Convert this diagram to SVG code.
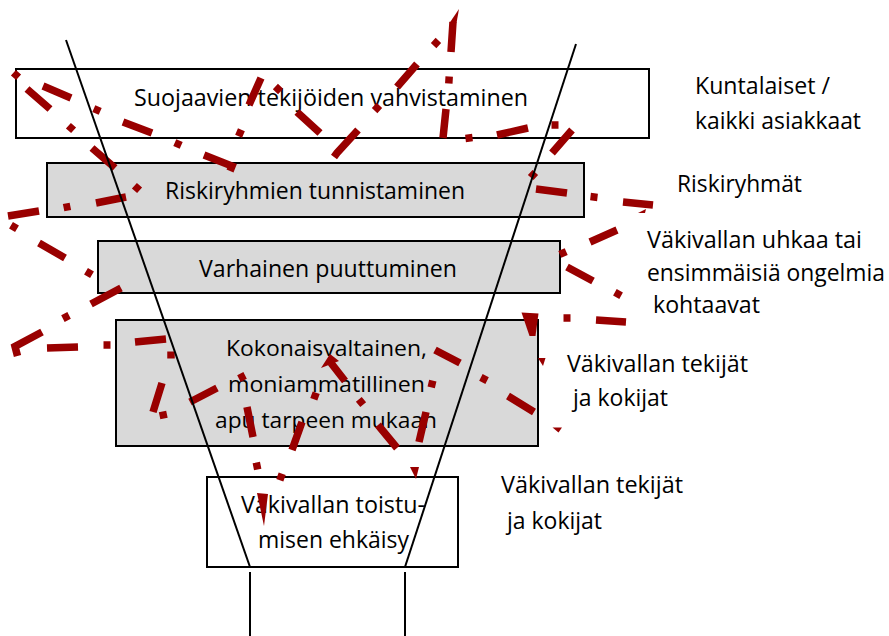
<svg xmlns="http://www.w3.org/2000/svg" width="889" height="636" viewBox="0 0 889 636">
<style>
  .box{stroke:#000;stroke-width:2}
  .w{fill:#fff}
  .g{fill:#d9d9d9}
  text{font-family:"Open Sans","Liberation Sans",sans-serif;font-size:23px;fill:#000}
  .sm{font-size:21px}
  .fl{stroke:#000;stroke-width:2;fill:none}
  .r{stroke:#990000;stroke-width:7.5;fill:none;stroke-linecap:butt;stroke-linejoin:miter}
  .rh{fill:#990000;stroke:none}
</style>
<rect width="889" height="636" fill="#fff"/>

<g id="node-suojaavien">
  <rect class="box w" x="16" y="69" width="633" height="69"/>
  <text x="134" y="106" textLength="394" lengthAdjust="spacingAndGlyphs">Suojaavien tekijöiden vahvistaminen</text>
</g>
<g id="node-riskiryhmien">
  <rect class="box g" x="47" y="163" width="537" height="54"/>
  <text x="165" y="199" textLength="300" lengthAdjust="spacingAndGlyphs">Riskiryhmien tunnistaminen</text>
</g>
<g id="node-varhainen">
  <rect class="box g" x="98" y="241" width="462" height="52"/>
  <text x="199" y="277" textLength="258" lengthAdjust="spacingAndGlyphs">Varhainen puuttuminen</text>
</g>
<g id="node-kokonaisvaltainen">
  <rect class="box g" x="116" y="320" width="422" height="126"/>
  <text class="sm" x="226" y="356" textLength="201" lengthAdjust="spacingAndGlyphs">Kokonaisvaltainen,</text>
  <text class="sm" x="228" y="392" textLength="197" lengthAdjust="spacingAndGlyphs">moniammatillinen</text>
  <text class="sm" x="215" y="428" textLength="222" lengthAdjust="spacingAndGlyphs">apu tarpeen mukaan</text>
</g>
<g id="node-toistumisen">
  <rect class="box w" x="207" y="477" width="251" height="90"/>
  <text x="241" y="513" textLength="184" lengthAdjust="spacingAndGlyphs">Väkivallan toistu-</text>
  <text x="258" y="548" textLength="151" lengthAdjust="spacingAndGlyphs">misen ehkäisy</text>
</g>

<g id="label-kuntalaiset">
  <text x="695" y="94" textLength="135" lengthAdjust="spacingAndGlyphs">Kuntalaiset /</text>
  <text x="695" y="129" textLength="166" lengthAdjust="spacingAndGlyphs">kaikki asiakkaat</text>
</g>
<g id="label-riskiryhmat">
  <text x="677" y="192" textLength="125" lengthAdjust="spacingAndGlyphs">Riskiryhmät</text>
</g>
<g id="label-uhkaa">
  <text x="647" y="248" textLength="215" lengthAdjust="spacingAndGlyphs">Väkivallan uhkaa tai</text>
  <text x="647" y="281" textLength="238" lengthAdjust="spacingAndGlyphs">ensimmäisiä ongelmia</text>
  <text x="653" y="313" textLength="107" lengthAdjust="spacingAndGlyphs">kohtaavat</text>
</g>
<g id="label-tekijat1">
  <text x="567" y="372" textLength="181" lengthAdjust="spacingAndGlyphs">Väkivallan tekijät</text>
  <text x="573" y="406" textLength="95" lengthAdjust="spacingAndGlyphs">ja kokijat</text>
</g>
<g id="label-tekijat2">
  <text x="501" y="493" textLength="182" lengthAdjust="spacingAndGlyphs">Väkivallan tekijät</text>
  <text x="507" y="529" textLength="95" lengthAdjust="spacingAndGlyphs">ja kokijat</text>
</g>

<g id="connectors">
  <!-- arrow 1: left zigzag -->
  <path class="r" d="M13.4 72.7L18.6 77.3 M27 89L50 109 M68.4 125.7L73.6 130.3 M92 148L115 168 M134.4 185.7L139.6 190.3 M126 197L96 203 M70.4 206.3L63.6 207.7 M39 211L8 216 M11 225.2L17 228.8 M39 243L65 258 M86 271.2L92 274.8 M121 288L91 304 M69.1 315.4L62.9 318.6 M42 332L15 346.5L17.5 356 M47 348L78 347 M103.5 345L110.5 345 M135 342L166 339 M171 351.5L171 358.5 M162 383L153 412 M162.5 411.5L164 418.5 M190 402L217 388 M238.9 378.6L245.1 375.4 M247 407L253 437 M256.3 462.6L257.7 469.4"/>
  <polygon class="rh" points="257,493 268,494 264,526"/>
  <!-- arrow 2: upper diagonal -->
  <path class="r" d="M43 86L71 98 M93.8 108.6L100.2 111.4 M123 122L152 133 M174.8 142.6L181.2 145.4 M204 155L232 166L230 171 M238.6 136.2L241.4 129.8 M249 105L261 78 M275.4 86.6L280.6 91.4 M297 112L320 133 M334 157L337 153L358 130 M374.6 110.6L379.4 105.4 M397 87L417 64 M433.6 45.6L438.4 40.4"/>
  <!-- arrow 3: vertical to top -->
  <polygon class="rh" points="449.5,23 456.5,23 459,9"/>
  <path class="r" d="M453 22L451 52 M449.2 76.5L448.8 83.5 M446 109L443 138 M465.5 138.4L472.5 137.6 M497 135L528 128 M551.5 125L558.5 125 M572 130L552 153 M535.3 172.4L530.7 177.6 M536 189L567 193 M590.5 196.6L597.5 197.4 M623 202L653 205 M617 230L590 242 M566.2 251.6L559.8 254.4 M567 267L593 281 M614.9 292.3L621.1 295.7 M626 322L596 320 M570.5 318L563.5 318"/>
  <polygon class="rh" points="638,213 646,209 645,213"/>
  <polygon class="rh" points="521.5,312.5 538.5,313.5 535.5,336 529.5,336"/>
  <polygon class="rh" points="538,358 545.5,358 543,366"/>
  <!-- arrow 4 -->
  <path class="r" d="M435 350L460 363 M480.9 377.4L487.1 380.6 M508 396L534 412"/>
  <polygon class="rh" points="552.5,427.5 562,427.5 558.5,432.5"/>
  <!-- arrow 5: centre -->
  <polygon class="rh" points="330,354 321,368 339,361"/>
  <path class="r" d="M331 363L345 381 M358.8 399.3L363.2 404.7 M378 425L397 448 M292 450L302 422 M313.8 399.3L316.2 392.7 M279.8 480.3L282.2 473.7 M419 442L426 412 M431.2 387.4L432.8 380.6"/>
  <polygon class="rh" points="410,467 419,467 416,479"/>
</g>

<g id="funnel">
  <line class="fl" x1="66" y1="40" x2="250" y2="567"/>
  <line class="fl" x1="576" y1="44" x2="405" y2="567"/>
  <line class="fl" x1="250" y1="572" x2="250" y2="636"/>
  <line class="fl" x1="405" y1="572" x2="405" y2="636"/>
</g>
</svg>
